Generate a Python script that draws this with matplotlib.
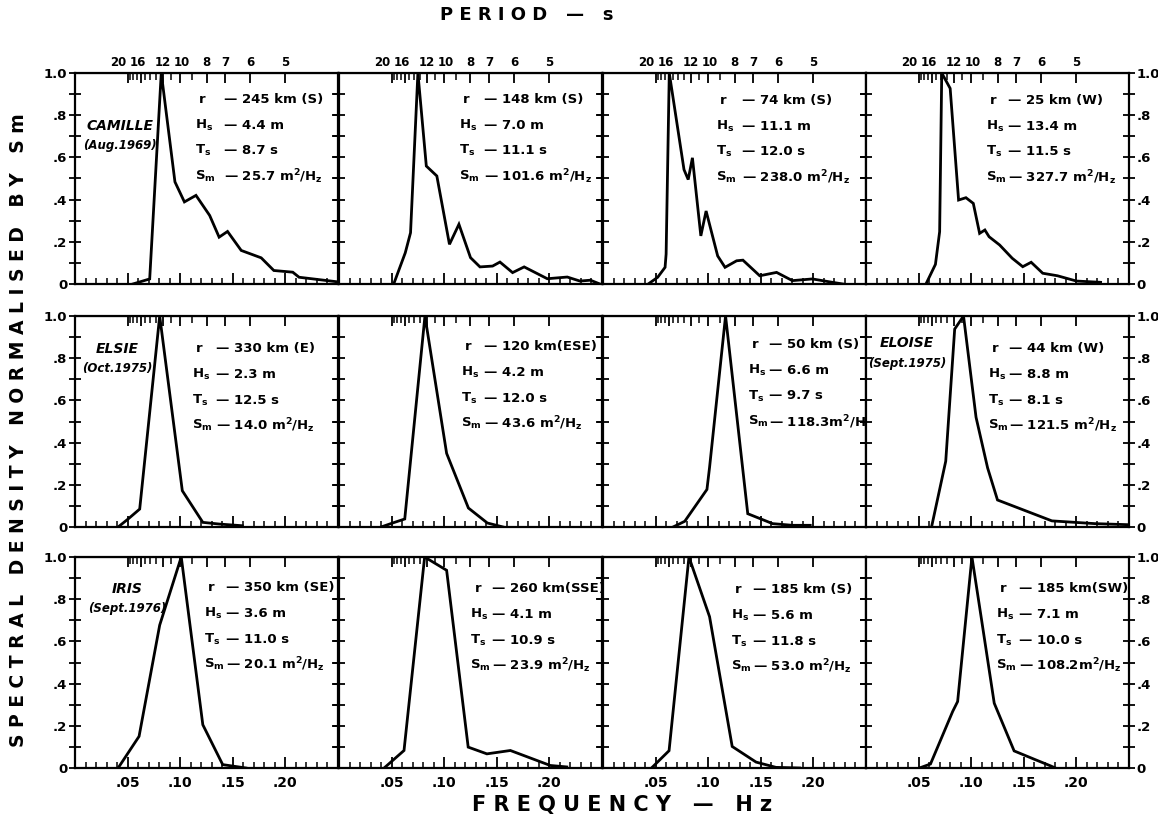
import numpy as np
import matplotlib
matplotlib.use('Agg')
import matplotlib.pyplot as plt
import matplotlib.transforms as mtransforms
from matplotlib.ticker import FixedLocator, MultipleLocator

plt.rcParams['font.family'] = 'DejaVu Sans'
plt.rcParams['font.weight'] = 'bold'
plt.rcParams['mathtext.fontset'] = 'custom'
plt.rcParams['mathtext.rm'] = 'DejaVu Sans:bold'
plt.rcParams['mathtext.it'] = 'DejaVu Sans:bold'
plt.rcParams['mathtext.default'] = 'rm'

# normalised spectra S(f)/Sm, frequency in Hz
camille_245_f = [0.055, 0.071, 0.082, 0.095, 0.104, 0.115, 0.128, 0.137, 0.145, 0.158, 0.177, 0.189, 0.207, 0.213, 0.25]
camille_245_s = [0.0, 0.024, 1.0, 0.484, 0.389, 0.42, 0.325, 0.222, 0.249, 0.159, 0.124, 0.064, 0.056, 0.032, 0.01]
camille_148_f = [0.052, 0.063, 0.068, 0.075, 0.083, 0.093, 0.105, 0.114, 0.125, 0.134, 0.146, 0.153, 0.165, 0.176, 0.198, 0.217, 0.229, 0.239, 0.248]
camille_148_s = [0.0, 0.148, 0.243, 1.0, 0.559, 0.512, 0.188, 0.283, 0.125, 0.081, 0.085, 0.104, 0.054, 0.081, 0.025, 0.033, 0.014, 0.018, 0.0]
camille_74_f = [0.043, 0.052, 0.059, 0.060, 0.063, 0.077, 0.081, 0.085, 0.093, 0.098, 0.109, 0.116, 0.127, 0.133, 0.149, 0.165, 0.180, 0.199, 0.218, 0.228]
camille_74_s = [0.0, 0.032, 0.079, 0.142, 1.0, 0.542, 0.495, 0.598, 0.228, 0.346, 0.133, 0.079, 0.11, 0.113, 0.039, 0.055, 0.016, 0.024, 0.008, 0.0]
camille_25_f = [0.057, 0.066, 0.070, 0.072, 0.080, 0.088, 0.095, 0.102, 0.108, 0.113, 0.117, 0.127, 0.139, 0.149, 0.157, 0.168, 0.182, 0.200, 0.223]
camille_25_s = [0.0, 0.093, 0.248, 1.0, 0.927, 0.398, 0.409, 0.382, 0.24, 0.256, 0.224, 0.185, 0.122, 0.082, 0.103, 0.051, 0.039, 0.014, 0.008]

elsie_330_f = [0.041, 0.0505, 0.0615, 0.0805, 0.102, 0.1215, 0.137, 0.159]
elsie_330_s = [0.0, 0.038, 0.085, 1.0, 0.172, 0.022, 0.014, 0.006]
elsie_120_f = [0.040, 0.051, 0.0625, 0.0817, 0.1023, 0.123, 0.141, 0.156]
elsie_120_s = [0.0, 0.019, 0.038, 1.0, 0.349, 0.09, 0.019, 0.0]
elsie_50_f = [0.0666, 0.0777, 0.0988, 0.1013, 0.1165, 0.1376, 0.1612, 0.18, 0.197]
elsie_50_s = [0.0, 0.027, 0.178, 0.283, 1.0, 0.063, 0.016, 0.008, 0.008]
eloise_44_f = [0.0623, 0.0758, 0.0843, 0.0927, 0.1046, 0.1156, 0.125, 0.1767, 0.2174, 0.249]
eloise_44_s = [0.0, 0.312, 0.938, 1.0, 0.52, 0.28, 0.128, 0.029, 0.016, 0.011]

iris_350_f = [0.041, 0.0609, 0.0805, 0.101, 0.1215, 0.1404, 0.1625]
iris_350_s = [0.0, 0.15, 0.677, 1.0, 0.205, 0.016, 0.0]
iris_260_f = [0.0429, 0.0618, 0.0814, 0.1023, 0.1228, 0.1406, 0.1629, 0.2008, 0.2165]
iris_260_s = [0.0, 0.083, 1.0, 0.937, 0.099, 0.067, 0.083, 0.012, 0.005]
iris_185s_f = [0.0461, 0.0628, 0.0817, 0.1013, 0.1228, 0.1455, 0.1644, 0.187]
iris_185s_s = [0.0, 0.082, 1.0, 0.717, 0.102, 0.028, 0.003, 0.0]
iris_185sw_f = [0.0508, 0.0613, 0.0824, 0.0871, 0.1007, 0.1098, 0.1219, 0.1408, 0.1597, 0.1755, 0.18]
iris_185sw_s = [0.0, 0.019, 0.268, 0.315, 1.0, 0.704, 0.307, 0.081, 0.042, 0.01, 0.0]

# storm parameters: distance (bearing), Hs, Ts, Sm
r_text = ['245 km (S)', '148 km (S)', '74 km (S)', '25 km (W)',
          '330 km (E)', '120 km(ESE)', '50 km (S)', '44 km (W)',
          '350 km (SE)', '260 km(SSE)', '185 km (S)', '185 km(SW)']
hs_text = ['4.4 m', '7.0 m', '11.1 m', '13.4 m',
           '2.3 m', '4.2 m', '6.6 m', '8.8 m',
           '3.6 m', '4.1 m', '5.6 m', '7.1 m']
ts_text = ['8.7 s', '11.1 s', '12.0 s', '11.5 s',
           '12.5 s', '12.0 s', '9.7 s', '8.1 s',
           '11.0 s', '10.9 s', '11.8 s', '10.0 s']
sm_text = ['25.7 m$^2$/H$_z$', '101.6 m$^2$/H$_z$', '238.0 m$^2$/H$_z$', '327.7 m$^2$/H$_z$',
           '14.0 m$^2$/H$_z$', '43.6 m$^2$/H$_z$', '118.3m$^2$/H', '121.5 m$^2$/H$_z$',
           '20.1 m$^2$/H$_z$', '23.9 m$^2$/H$_z$', '53.0 m$^2$/H$_z$', '108.2m$^2$/H$_z$']

storm_names = {0: ('CAMILLE', '(Aug.1969)'), 4: ('ELSIE', '(Oct.1975)'),
               7: ('ELOISE', '(Sept.1975)'), 8: ('IRIS', '(Sept.1976)')}

period_labels = [20, 16, 12, 10, 8, 7, 6, 5]
period_minor = [19, 18, 17, 15, 14, 13, 11, 9]
freq_ticks = [0.05, 0.10, 0.15, 0.20]
dens_ticks = [0, 0.2, 0.4, 0.6, 0.8, 1.0]

spectra = [(camille_245_f, camille_245_s), (camille_148_f, camille_148_s),
           (camille_74_f, camille_74_s), (camille_25_f, camille_25_s),
           (elsie_330_f, elsie_330_s), (elsie_120_f, elsie_120_s),
           (elsie_50_f, elsie_50_s), (eloise_44_f, eloise_44_s),
           (iris_350_f, iris_350_s), (iris_260_f, iris_260_s),
           (iris_185s_f, iris_185s_s), (iris_185sw_f, iris_185sw_s)]

# label column, dash column, first line height (axes fraction)
text_pos = [(0.455, 0.565, 0.875), (0.455, 0.55, 0.875), (0.43, 0.53, 0.87), (0.455, 0.54, 0.87),
            (0.445, 0.535, 0.845), (0.465, 0.55, 0.855), (0.55, 0.63, 0.865), (0.465, 0.545, 0.845),
            (0.49, 0.575, 0.855), (0.5, 0.58, 0.85), (0.485, 0.57, 0.845), (0.495, 0.58, 0.85)]
name_pos = {0: (0.17, 0.75), 4: (0.16, 0.845), 7: (0.155, 0.87), 8: (0.2, 0.85)}
# small sideways nudges (pixels) keep the crowded long-period labels apart
period_nudge = {20: -9, 16: -3, 12: 0, 10: 2}

fig = plt.figure(figsize=(11.58, 8.23), dpi=100)

W, H = 1158, 823
col_left = [75, 339, 603, 866]
row_top = [73, 316, 557]
pw, ph = 263, 211


def fmt_freq(v):
    return '.%02d' % round(v * 100)


def fmt_dens(v):
    return '1.0' if v == 1.0 else ('0' if v == 0 else '.%d' % round(v * 10))


for i, (f, s) in enumerate(spectra):
    row, col = divmod(i, 4)
    x0 = col_left[col] / W
    y0 = 1 - (row_top[row] + ph) / H
    ax = fig.add_axes([x0, y0, pw / W, ph / H])
    ax.plot(f, s, color='black', lw=2.0, solid_joinstyle='miter')
    ax.set_xlim(0, 0.25)
    ax.set_ylim(0, 1.0)
    for sp in ax.spines.values():
        sp.set_linewidth(1.6)

    ax.xaxis.set_major_locator(FixedLocator(freq_ticks))
    ax.xaxis.set_minor_locator(MultipleLocator(0.01))
    ax.tick_params(axis='x', which='major', direction='in', length=8, width=1.3, pad=6)
    ax.tick_params(axis='x', which='minor', direction='in', length=4, width=1.1)
    if row == 2:
        ax.set_xticklabels([fmt_freq(v) for v in freq_ticks], fontsize=10)
    else:
        ax.set_xticklabels([])

    ax.yaxis.set_major_locator(FixedLocator(dens_ticks))
    ax.yaxis.set_minor_locator(MultipleLocator(0.1))
    ax.tick_params(axis='y', which='both', direction='inout', length=9, width=1.3,
                   left=True, right=True, labelleft=(col == 0), labelright=(col == 3), pad=1)
    ax.set_yticklabels([fmt_dens(v) for v in dens_ticks], fontsize=9.5)

    # period scale along the top
    top = ax.secondary_xaxis('top')
    top.set_xticks([1.0 / p for p in period_labels])
    top.set_xticks([1.0 / p for p in period_minor], minor=True)
    top.tick_params(which='major', direction='in', length=7, width=1.3)
    top.tick_params(which='minor', direction='in', length=5, width=1.1)
    top.set_xticklabels([])
    if row == 0:
        trans = mtransforms.blended_transform_factory(ax.transData, ax.transAxes)
        for p in period_labels:
            t = mtransforms.offset_copy(trans, fig=fig, x=period_nudge.get(p, 0), y=4, units='dots')
            ax.text(1.0 / p, 1.0, str(p), transform=t, fontsize=8.5, ha='center', va='bottom')

    xl, xd, yt = text_pos[i]
    labels = ['r', 'H$_s$', 'T$_s$', 'S$_m$']
    values = [r_text[i], hs_text[i], ts_text[i], sm_text[i]]
    for k, (lab, val) in enumerate(zip(labels, values)):
        yy = yt - 0.122 * k
        ax.text(xl + (0.015 if k == 0 else 0), yy, lab, transform=ax.transAxes,
                fontsize=9.5, va='center', ha='left')
        ax.text(xd, yy, '\u2014 ' + val, transform=ax.transAxes,
                fontsize=9.5, va='center', ha='left')

    if i in storm_names:
        name, date = storm_names[i]
        nx, ny = name_pos[i]
        ax.text(nx, ny, name, transform=ax.transAxes, fontsize=10,
                style='italic', ha='center', va='center')
        ax.text(nx, ny - 0.095, date, transform=ax.transAxes, fontsize=8.5,
                style='italic', ha='center', va='center')

fig.text(0.455, 0.982, 'P E R I O D   \u2014   s', fontsize=13, ha='center', va='center')
fig.text(0.537, 0.022, 'F R E Q U E N C Y   \u2014   H z', fontsize=15, ha='center', va='center')
fig.text(0.016, 0.4775, 'S P E C T R A L   D E N S I T Y   N O R M A L I S E D   B Y   S m',
         fontsize=13.5, rotation=90, ha='center', va='center')

fig.savefig('out.png', dpi=100)
